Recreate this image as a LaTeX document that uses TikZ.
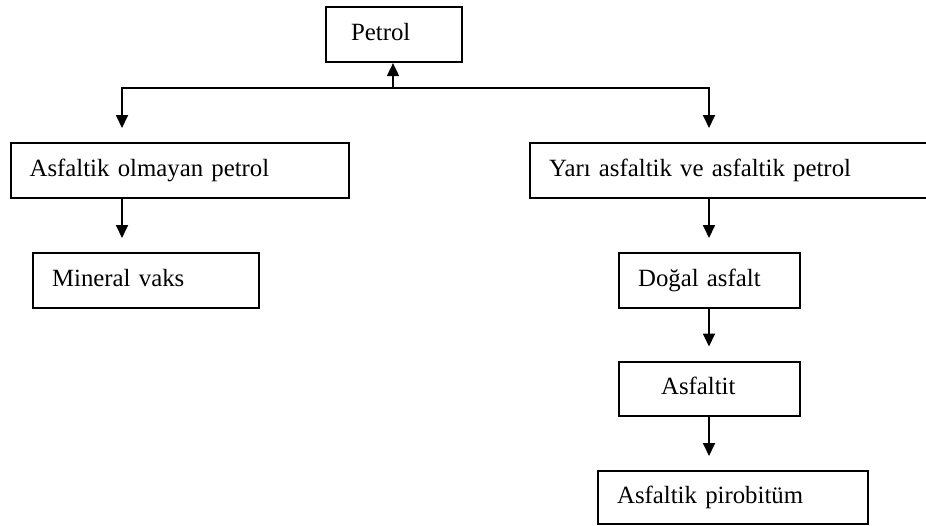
\documentclass[tikz,border=0pt]{standalone}
\usepackage{fontspec}
\setmainfont{Liberation Serif}
\usetikzlibrary{arrows.meta}

\begin{document}
\begin{tikzpicture}[
    x=0.5pt, y=-0.5pt,
    every node/.style={font=\fontsize{12.4}{15}\selectfont},
    box/.style={draw, line width=1.1pt, anchor=north west, align=left, minimum height=27.5pt, inner xsep=9.5pt, text height=8.7pt, text depth=3.1pt},
    link/.style={line width=0.9pt},
    flow/.style={-{Triangle[length=6.5pt, width=6pt]}, line width=0.9pt, shorten >=7pt},
    rise/.style={-{Triangle[length=6.5pt, width=6pt]}, line width=0.9pt}
]
\useasboundingbox (0,0) rectangle (926,525);
\clip (0,0) rectangle (926,525);
\node[box, inner xsep=12.5pt, text width=43pt, minimum height=27.6pt] (petrol) at (325,5.7) {Petrol};
\node[box, text width=150.25pt] (nonasph) at (9.5,142) {Asfaltik olmayan petrol};
\node[box, text width=186.5pt] (semiasph) at (529,142) {Yarı asfaltik ve asfaltik petrol};
\node[box, text width=94pt] (wax) at (32,252) {Mineral vaks};
\node[box, text width=71.5pt] (natural) at (618,252) {Doğal asfalt};
\node[box, inner xsep=21pt, text width=48.5pt, minimum height=27.2pt] (asphaltite) at (618,360.5) {Asfaltit};
\node[box, text width=115.75pt, minimum height=26.5pt] (pyro) at (597,470) {Asfaltik pirobitüm};
% branch point and columns
\coordinate (hub) at (393,87.7);
\coordinate (lcol) at (122,87.7);
\coordinate (rcol) at (709,87.7);
\draw[rise] (hub) -- (petrol.south -| hub);
\draw[flow] (hub) -| (nonasph.north -| lcol);
\draw[flow] (hub) -| (semiasph.north -| rcol);
\draw[flow] (nonasph.south -| lcol) -- (wax.north -| lcol);
\draw[flow] (semiasph.south -| rcol) -- (natural.north -| rcol);
\draw[flow] (natural.south -| rcol) -- (asphaltite.north -| rcol);
\draw[flow] (asphaltite.south -| rcol) -- (pyro.north -| rcol);
\end{tikzpicture}
\end{document}
